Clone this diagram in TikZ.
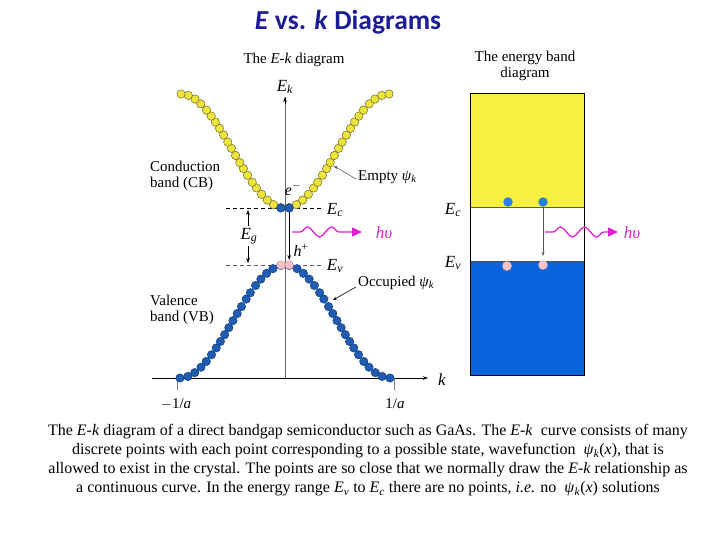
\documentclass[tikz,border=0pt]{standalone}
\usepackage{fontspec}
\setmainfont{Liberation Serif}
\newfontfamily\titlefont{Carlito}
\usetikzlibrary{arrows.meta,decorations.pathmorphing}
\definecolor{titleblue}{HTML}{1C1C96}
\definecolor{cbfill}{HTML}{EEE43C}
\definecolor{cbedge}{HTML}{6E6A2A}
\definecolor{vbfill}{HTML}{1F5CB2}
\definecolor{vbedge}{HTML}{123F82}
\definecolor{pinkfill}{HTML}{F6C2C8}
\definecolor{pinkedge}{HTML}{D89AA2}
\definecolor{bandyellow}{HTML}{F8F03E}
\definecolor{bandblue}{HTML}{0864DC}
\definecolor{lightblue}{HTML}{2A80E2}
\definecolor{photon}{HTML}{E020D2}
\newcommand{\sbs}[1]{\textsubscript{#1}}
\newcommand{\sps}[1]{\textsuperscript{#1}}
% dots placed at equal arc length along y = A(1-cos(pi x/L))
% #1 x0, #2 y0, #3 A, #4 L, #5 style, #6 direction, #7 number of dots
\newcommand{\banddots}[7]{%
  \xdef\accs{0}\xdef\prevy{0}%
  \foreach \i in {1,...,200}{%
    \pgfmathsetmacro\yy{#3*(1-cos(\i/200*180))}%
    \pgfmathsetmacro\newacc{\accs+sqrt((#4/200)^2+(\yy-\prevy)^2)}%
    \xdef\accs{\newacc}\xdef\prevy{\yy}%
  }%
  \pgfmathsetmacro\stp{(\accs-4.2)/(#7-1)}%
  \xdef\stepl{\stp}%
  \xdef\accs{0}\xdef\prevy{0}\xdef\nexts{4.2}%
  \foreach \i in {1,...,200}{%
    \pgfmathsetmacro\xx{\i/200*#4}%
    \pgfmathsetmacro\yy{#3*(1-cos(\i/200*180))}%
    \pgfmathsetmacro\newacc{\accs+sqrt((#4/200)^2+(\yy-\prevy)^2)}%
    \xdef\accs{\newacc}\xdef\prevy{\yy}%
    \pgfmathparse{\accs>=\nexts-0.01 ? 1 : 0}%
    \ifnum\pgfmathresult=1
      \node[#5] at ({#1+#6*\xx},{#2+\yy}) {};%
      \pgfmathsetmacro\nn{\nexts+\stepl}\xdef\nexts{\nn}%
    \fi
  }%
}
\tikzset{
  lbl/.style={font=\fontsize{15}{16.5}\selectfont, inner sep=0pt},
  sym/.style={font=\fontsize{17}{18}\selectfont, inner sep=0pt},
  captext/.style={font=\fontsize{16}{18}\selectfont, inner sep=0pt},
  cbdot/.style={circle, fill=cbfill, draw=cbedge, line width=0.5pt, minimum size=8.4pt, inner sep=0pt},
  vbdot/.style={circle, fill=vbfill, draw=vbedge, line width=0.5pt, minimum size=8.4pt, inner sep=0pt},
  pkdot/.style={circle, fill=pinkfill, draw=pinkedge, line width=0.5pt, minimum size=8.4pt, inner sep=0pt},
  bdot/.style={circle, fill=lightblue, minimum size=9.5pt, inner sep=0pt},
  rpdot/.style={circle, fill=pinkfill, minimum size=9.5pt, inner sep=0pt},
  tip/.style={-{Stealth[length=5pt,width=3.5pt]}},
  wave/.style={photon, line width=1.3pt, decorate, decoration={snake, amplitude=5pt, segment length=24pt, pre length=8pt, post length=14pt}},
}
\begin{document}
\begin{tikzpicture}[x=1pt,y=-1pt]
\useasboundingbox (0,0) rectangle (720,540);
\fill[white] (0,0) rectangle (720,540);

% title
\node[font=\titlefont\bfseries\fontsize{27.5}{30}\selectfont, text=titleblue] (title) at (348,22) {\textit{E} vs. \textit{k} Diagrams};

% ---------- E-k diagram ----------
\node[lbl] (ektitle) at (294,60) {The \textit{E}-\textit{k} diagram};
\coordinate (origin) at (285,378);
\coordinate (ytop) at (285,97);
\coordinate (xleft) at (152,378);
\coordinate (xright) at (428,378);
\draw[gray!80!black, line width=0.8pt] (origin) -- (ytop);
\draw[tip] (285,104) -- (ytop);
\draw[line width=0.8pt, tip] (xleft) -- (xright);
\node[sym] (Ek) at (285,87) {\textit{E}\sbs{\textit{k}}};
\node[sym] (klab) at (442,380) {\textit{k}};
\coordinate (tl) at (177,378); \coordinate (tlb) at (177,390);
\coordinate (tr) at (394,378); \coordinate (trb) at (394,390);
\draw[gray, line width=0.8pt] (tl) -- (tlb);
\draw[gray, line width=0.8pt] (tr) -- (trb);
\node[lbl] (ml) at (176,404) {$-$1/\textit{a}};
\node[lbl] (pl) at (395,404) {1/\textit{a}};

% gap lines
\coordinate (ecl) at (226,208); \coordinate (ecr) at (323,208);
\coordinate (evl) at (226,265); \coordinate (evr) at (323,265);
\draw[line width=0.9pt, dash pattern=on 4pt off 3pt] (ecl) -- (ecr);
\draw[gray!70!black, line width=0.6pt, dash pattern=on 4pt off 3pt] (evl) -- (evr);

% bands of dots
\banddots{285}{208}{-57}{104}{cbdot}{1}{21}
\banddots{285}{208}{-57}{104}{cbdot}{-1}{21}
\banddots{285}{265}{56.5}{105}{vbdot}{1}{20}
\banddots{285}{265}{56.5}{105}{vbdot}{-1}{20}
\node[vbdot] (e1) at (281,208) {};
\node[vbdot] (e2) at (289.2,208) {};
\node[pkdot] (h1) at (281,265) {};
\node[pkdot] (h2) at (289.2,265) {};

% labels
\node[sym, font=\fontsize{16}{17}\selectfont] (em) at (293,189) {\textit{e}\sps{$-$}};
\node[sym, font=\fontsize{16}{17}\selectfont] (hp) at (301,250) {\textit{h}\sps{+}};
\node[sym] (Ecl) at (335,210) {\textit{E}\sbs{\textit{c}}};
\node[sym] (Evl) at (335,266) {\textit{E}\sbs{\textit{v}}};
\node[sym] (Eg) at (249,236) {\textit{E}\sbs{\textit{g}}};
\coordinate (ega) at (248,226); \coordinate (egat) at (248,210);
\coordinate (egb) at (248,246); \coordinate (egbt) at (248,263);
\draw[tip] (ega) -- (egat);
\draw[tip] (egb) -- (egbt);
\coordinate (eht) at (289.2,260);
\draw[tip, line width=0.6pt] (e2.south) -- (eht);
\coordinate (w1s) at (292,232); \coordinate (w1e) at (362,232);
\draw[wave, -{Triangle[length=10pt,width=9pt]}] (w1s) -- (w1e);
\node[sym, text=photon] (hv1) at (384,233) {\textit{hυ}};

\node[lbl, align=left, anchor=west] (cb) at (150,176) {Conduction\\band (CB)};
\node[lbl, align=left, anchor=west] (vb) at (150,310) {Valence\\band (VB)};
\node[lbl, anchor=west] (empty) at (358,177) {Empty \textit{ψ}\sbs{\textit{k}}};
\node[lbl, anchor=west] (occ) at (358,283) {Occupied \textit{ψ}\sbs{\textit{k}}};
\coordinate (emptyt) at (334,166);
\coordinate (occt) at (333,300);
\draw[gray!60!black, line width=0.5pt, -{Stealth[length=4pt,width=3pt]}] (empty.west) ++(-2,2) -- (emptyt);
\draw[black, line width=0.6pt, -{Stealth[length=4pt,width=3pt]}] (occ.west) ++(-2,4) -- (occt);

% ---------- energy band diagram ----------
\node[lbl, align=center] (ebtitle) at (525,66) {The energy band\\diagram};
\fill[bandyellow] (470,93) rectangle (584,208);
\fill[bandblue] (470,261) rectangle (584,375);
\draw[olive!60!black, line width=1pt] (470,208) -- (584,208);
\draw[black!70, line width=0.6pt] (470,261) -- (584,261);
\draw[black, line width=0.8pt] (470,93) rectangle (584,375);
\node[sym] (Ecr) at (453,210) {\textit{E}\sbs{\textit{c}}};
\node[sym] (Evr) at (453,263) {\textit{E}\sbs{\textit{v}}};
\node[bdot] (b1) at (508,202) {};
\node[bdot] (b2) at (543,202) {};
\node[rpdot] (p1) at (507,266) {};
\node[rpdot] (p2) at (543,265) {};
\coordinate (b2t) at (543,256);
\draw[gray!70!black, line width=0.6pt, -{Stealth[length=4pt,width=3pt]}] (b2.south) -- (b2t);
\coordinate (w2s) at (545,232); \coordinate (w2e) at (618,232);
\draw[wave, -{Triangle[length=10pt,width=9pt]}] (w2s) -- (w2e);
\node[sym, text=photon] (hv2) at (632,233) {\textit{hυ}};

% ---------- caption ----------
\node[captext] (c1) at (368,432) {The \textit{E}-\textit{k} diagram of a direct bandgap semiconductor such as GaAs. The \textit{E}-\textit{k}\ \ curve consists of many};
\node[captext] (c2) at (368,451) {discrete points with each point corresponding to a possible state, wavefunction\ \ \textit{ψ}\sbs{\textit{k}}(\textit{x}), that is};
\node[captext] (c3) at (368,470) {allowed to exist in the crystal. The points are so close that we normally draw the \textit{E}-\textit{k} relationship as};
\node[captext] (c4) at (368,489) {a continuous curve. In the energy range \textit{E}\sbs{\textit{v}} to \textit{E}\sbs{\textit{c}} there are no points, \textit{i.e.} no\ \ \textit{ψ}\sbs{\textit{k}}(\textit{x}) solutions};
\end{tikzpicture}
\end{document}
